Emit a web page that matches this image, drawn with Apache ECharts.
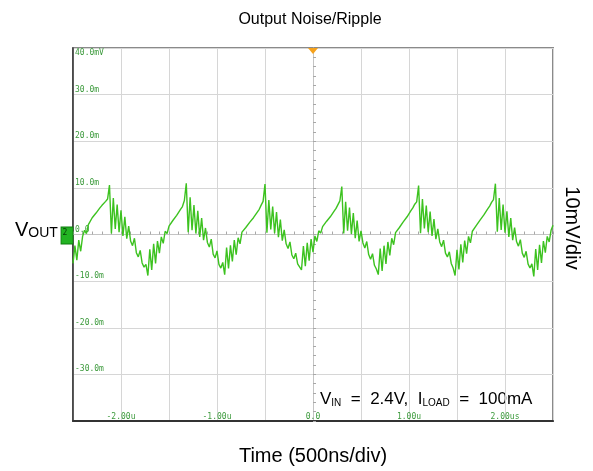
<!DOCTYPE html>
<html>
<head>
<meta charset="utf-8">
<script src="https://cdn.jsdelivr.net/npm/echarts@6/dist/echarts.min.js"></script>
<style>
  html, body { margin: 0; padding: 0; background: #ffffff; }
  #chart { width: 593px; height: 471px; }
</style>
</head>
<body>
<div id="chart"></div>
<script>
// Scope capture: output ripple in mV, one sample every 20 ns starting at -2.5 us
const SAMPLE_START_US = -2.5;
const SAMPLE_STEP_US = 0.02;

// Trace split per switching cycle (each starts at a valley)
const leadIn = [-6.2, -2.4, -5.5, -1.2, -3.6, -0.4, 0.9, 0.2, 2.1, 1.8, 3.6, 3.4, 4.6, 4.5, 5.7, 6.2, 6.6, 7.1, 7.6, 10.6,
  0.2, 7.8, 1.2, 6.4, 0.5, 5.2, -0.3, 3.8, -0.9, 1.8, -1.4, -2.4, -0.8, -3.9, -4.8, -3.4, -6.1, -7.0, -6.4];
const cycle1 = [-8.8, -3.2, -7.6, -2.0, -6.2, -1.4, -4.0, -0.5, -1.9, 0.7, 0.2, 1.8, 1.4, 3.0, 2.6, 4.1, 4.3, 5.4, 6.0, 7.3, 11.0,
  0.5, 8.0, 0.9, 6.3, 0.2, 5.1, -0.5, 3.5, -1.2, 1.4, -1.7, -2.7, -1.0, -4.2, -5.0, -3.5, -6.4, -7.2, -6.0];
const cycle2 = [-8.6, -2.8, -7.3, -2.3, -5.8, -1.2, -4.3, -0.7, -2.0, 0.5, 0.1, 1.5, 1.3, 2.6, 2.5, 3.6, 3.9, 4.8, 5.4, 6.3, 7.1, 10.8,
  0.4, 7.4, 1.1, 6.0, 0.3, 4.8, -0.6, 3.2, -1.3, 1.0, -2.0, -3.0, -1.6, -4.4, -5.2, -4.0, -6.3, -6.0];
const cycle3 = [-7.6, -2.5, -6.8, -1.8, -5.6, -1.0, -3.8, -0.3, -1.5, 0.8, 0.3, 1.7, 1.5, 2.8, 2.7, 3.8, 4.1, 5.0, 5.6, 6.4, 7.2, 10.3,
  0.2, 7.0, 0.8, 5.8, 0.1, 4.6, -0.8, 3.0, -1.5, 0.8, -1.8, -2.9, -1.5, -4.3, -5.3, -4.1, -6.6, -7.4];
const cycle4 = [-8.6, -3.0, -7.8, -2.4, -6.3, -1.6, -4.5, -0.8, -2.2, 0.4, 0.0, 1.5, 1.2, 2.7, 2.4, 3.8, 4.0, 5.1, 5.7, 6.5, 7.0, 10.5,
  0.3, 7.6, 1.3, 6.2, 0.5, 4.9, -0.3, 3.3, -1.0, 1.2, -1.6, -2.6, -1.2, -4.0, -4.8, -3.7, -6.2, -7.2];
const cycle5 = [-8.8, -3.3, -7.5, -2.1, -6.0, -1.3, -4.1, -0.4, -1.8, 0.7, 0.3, 1.9, 1.6, 3.1, 2.9, 4.2, 4.4, 5.5, 6.1, 6.9, 7.5, 10.9,
  0.6, 7.8, 1.0, 6.4, 0.4, 5.0, -0.5, 3.5, -1.2, 1.5, -1.5, -2.5, -1.1, -4.0, -4.9, -3.6, -6.3, -7.2, -6.3];
const leadOut = [-9.0, -3.1, -7.6, -2.2, -6.1, -1.4, -3.9, -0.4, -1.6, 0.9, 2.0];

// Graticule labels
const xTickValues = [-2, -1, 0, 1, 2];
const xTickText = ['-2.00u', '-1.00u', '0.0', '1.00u', '2.00us'];
const yTickValues = [40, 30, 20, 10, 0, -10, -20, -30];
const yTickText = ['40.0mV', '30.0m', '20.0m', '10.0m', '0.0', '-10.0m', '-20.0m', '-30.0m'];

const rippleMv = [].concat(leadIn, cycle1, cycle2, cycle3, cycle4, cycle5, leadOut);
const traceData = rippleMv.map((v, i) => [SAMPLE_START_US + i * SAMPLE_STEP_US, v]);

const SANS = 'Liberation Sans, Arial, sans-serif';
const MONO = 'DejaVu Sans Mono, monospace';
const SCOPE_GREEN = '#3c9a3c';
const GRID_GRAY = '#d6d6d6';

const chart = echarts.init(document.getElementById('chart'), null, { renderer: 'canvas' });

chart.setOption({
  animation: false,
  backgroundColor: '#ffffff',
  grid: {
    left: 73, right: 40, top: 48, bottom: 50,
    show: true, borderColor: '#8a8a8a', borderWidth: 2, backgroundColor: 'transparent'
  },
  xAxis: [
    {
      type: 'value', min: -2.5, max: 2.5, interval: 0.5, position: 'bottom',
      axisLine: { show: true, onZero: false, lineStyle: { color: '#333333', width: 2 } },
      axisTick: { show: false },
      splitLine: { show: true, lineStyle: { color: GRID_GRAY, width: 1 } },
      axisLabel: {
        inside: true, margin: 0, fontFamily: MONO, fontSize: 8, color: SCOPE_GREEN,
        formatter: (v) => {
          const k = xTickValues.findIndex(t => Math.abs(t - v) < 1e-9);
          return k < 0 ? '' : xTickText[k];
        }
      }
    },
    {
      // centre graticule line with fine divisions
      type: 'value', min: -2.5, max: 2.5, interval: 0.1, position: 'top',
      axisLine: { show: true, onZero: true, lineStyle: { color: '#c4c4c4', width: 1 } },
      axisTick: { show: true, length: 3, lineStyle: { color: '#a8a8a8' } },
      axisLabel: { show: false },
      splitLine: { show: false }
    }
  ],
  yAxis: [
    {
      type: 'value', min: -40, max: 40, interval: 10, position: 'left',
      axisLine: { show: true, onZero: false, lineStyle: { color: '#333333', width: 1.5 } },
      axisTick: { show: false },
      splitLine: { show: true, lineStyle: { color: GRID_GRAY, width: 1 } },
      axisLabel: {
        inside: true, margin: 2, verticalAlign: 'middle',
        formatter: (v) => {
          const k = yTickValues.indexOf(v);
          if (k < 0) return '';
          return k === 0 ? '{e| }\n{t|' + yTickText[k] + '}' : '{t|' + yTickText[k] + '}\n{e| }';
        },
        rich: {
          t: { fontFamily: MONO, fontSize: 8, color: SCOPE_GREEN, lineHeight: 10 },
          e: { fontSize: 8, lineHeight: 10 }
        }
      }
    },
    {
      type: 'value', min: -40, max: 40, interval: 2, position: 'right',
      axisLine: { show: true, onZero: true, lineStyle: { color: '#c4c4c4', width: 1 } },
      axisTick: { show: true, length: 3, lineStyle: { color: '#a8a8a8' } },
      axisLabel: { show: false },
      splitLine: { show: false }
    }
  ],
  series: [
    {
      type: 'line',
      xAxisIndex: 0, yAxisIndex: 0,
      data: traceData,
      showSymbol: false,
      lineStyle: { color: '#3cc21f', width: 1.4 },
      z: 5,
      markPoint: {
        silent: true,
        data: [
          {
            // trigger position marker
            coord: [0, 40], symbol: 'triangle', symbolRotate: 180,
            symbolSize: [10, 6], symbolOffset: [0, 3],
            itemStyle: { color: '#f6a21c' }, label: { show: false }
          },
          {
            // channel ground reference marker
            coord: [-2.5, 0], symbol: 'rect', symbolSize: [12, 17], symbolOffset: [-6, 1],
            itemStyle: { color: '#22b322', borderColor: '#0c7c0c', borderWidth: 1 },
            label: { show: true, position: 'inside', formatter: '2', fontFamily: MONO, fontSize: 8, color: '#053b05', offset: [-2, -3] }
          }
        ]
      }
    }
  ],
  graphic: [
    {
      type: 'text', x: 310, y: 20,
      style: { text: 'Output Noise/Ripple', font: '16px ' + SANS, fill: '#000', align: 'center', verticalAlign: 'middle' }
    },
    {
      type: 'text', x: 313, y: 456,
      style: { text: 'Time (500ns/div)', font: '20px ' + SANS, fill: '#000', align: 'center', verticalAlign: 'middle' }
    },
    {
      type: 'text', x: 572, y: 228, rotation: -Math.PI / 2,
      style: { text: '10mV/div', font: '20px ' + SANS, fill: '#000', align: 'center', verticalAlign: 'middle' }
    },
    {
      type: 'text', x: 15, y: 240,
      style: {
        text: '{v|V}{s|OUT}', verticalAlign: 'bottom', align: 'left',
        rich: {
          v: { fontFamily: SANS, fontSize: 20, fill: '#000', verticalAlign: 'bottom', lineHeight: 22 },
          s: { fontFamily: SANS, fontSize: 14, fill: '#000', verticalAlign: 'bottom', lineHeight: 22 }
        }
      }
    },
    {
      type: 'text', x: 320, y: 408,
      style: {
        text: '{m|V}{s|IN}{m|  =  2.4V,  I}{s|LOAD}{m|  =  100mA}', verticalAlign: 'bottom', align: 'left',
        rich: {
          m: { fontFamily: SANS, fontSize: 17, fill: '#000', verticalAlign: 'bottom', lineHeight: 20 },
          s: { fontFamily: SANS, fontSize: 10, fill: '#000', verticalAlign: 'bottom', lineHeight: 20 }
        }
      }
    }
  ]
});
</script>
</body>
</html>
